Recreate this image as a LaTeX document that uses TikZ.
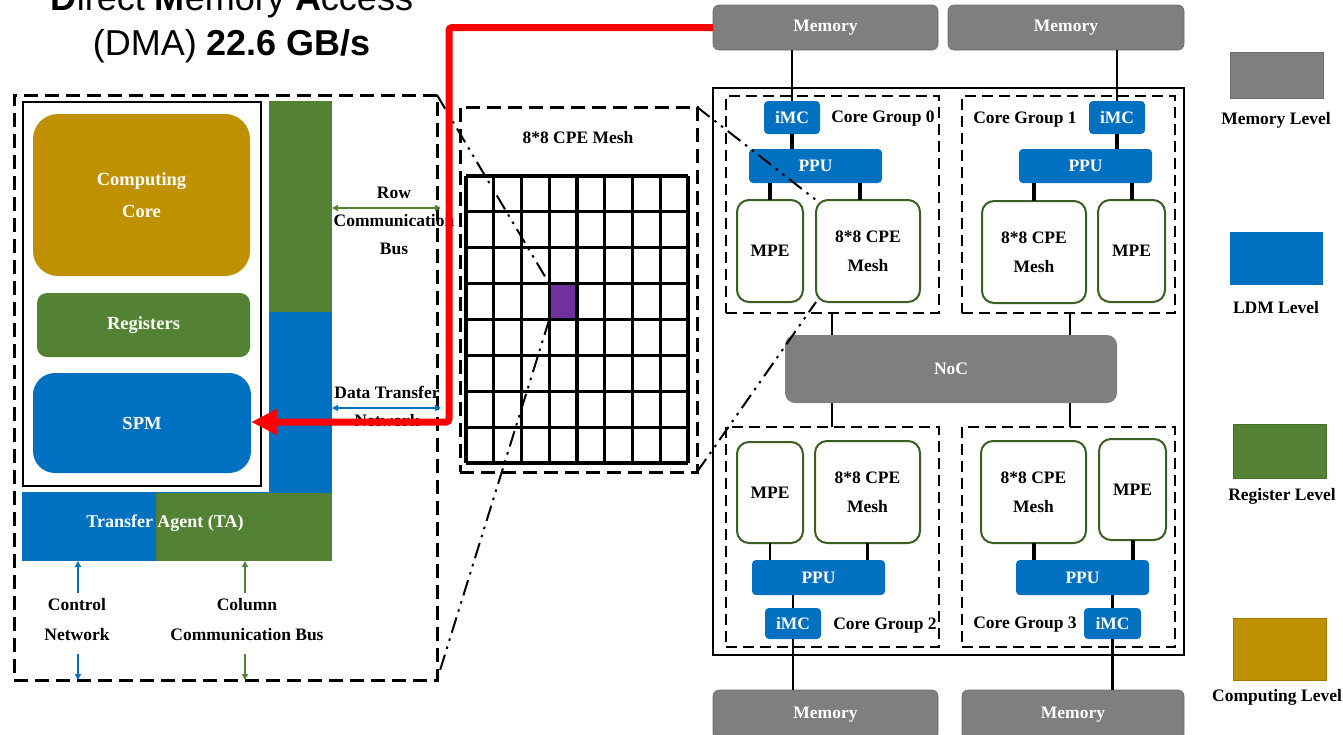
\documentclass[tikz,border=0pt]{standalone}
\usepackage{fontspec}
\setmainfont{Liberation Serif}
\newfontfamily\arialf{Liberation Sans}
\usetikzlibrary{arrows.meta,calc}
\definecolor{memgray}{HTML}{7F7F7F}
\definecolor{ldmblue}{HTML}{0070C0}
\definecolor{reggreen}{HTML}{548235}
\definecolor{compgold}{HTML}{BF9000}
\definecolor{cpepurple}{HTML}{7030A0}
\definecolor{pegreen}{HTML}{3B5E22}
\begin{document}
\begin{tikzpicture}[x=1pt,y=-1pt,
  every node/.style={inner sep=0pt,outer sep=0pt},
  lbl/.style={font=\fontsize{17.5}{21}\selectfont\bfseries,align=center},
  wlbl/.style={lbl,text=white},
  membox/.style={fill=memgray,draw=memgray!85!black,line width=0.6pt,rounded corners=6pt,wlbl},
  ldmbox/.style={fill=ldmblue,rounded corners=4pt,wlbl},
  pebox/.style={draw=pegreen,line width=2pt,fill=white,rounded corners=12pt,font=\fontsize{17.5}{29}\selectfont\bfseries,align=center},
  cgbox/.style={draw,line width=2.5pt,dash pattern=on 11pt off 6pt},
  bigdash/.style={draw,line width=3pt,dash pattern=on 14pt off 7pt},
  link/.style={line width=2.5pt},
  tlink/.style={line width=4pt},
  zoomline/.style={line width=2pt,dash pattern=on 16pt off 6pt on 2.5pt off 6pt on 2.5pt off 6pt},
  tip/.style={-{Triangle[length=6pt,width=6pt]}},
  dtip/.style={{Triangle[length=6pt,width=6pt]}-{Triangle[length=6pt,width=6pt]}},
  legbox/.style={minimum width=93pt}
]
\useasboundingbox (0,0) rectangle (1343,734);

% ---------- title ----------
\node[anchor=base,font=\arialf\fontsize{36}{40}\selectfont] (t1) at (232,10) {\textbf{D}irect \textbf{M}emory \textbf{A}ccess};
\node[anchor=base,font=\arialf\fontsize{36}{40}\selectfont] (t2) at (232,55) {(DMA) \textbf{22.6 GB/s}};

% ---------- left panel ----------
\node[bigdash,minimum width=423pt,minimum height=585pt] (leftpanel) at (225.5,387.5) {};
\node[draw,line width=2.5pt,minimum width=238pt,minimum height=384pt] (pe) at (142,294) {};
\node[fill=compgold,rounded corners=25pt,minimum width=217pt,minimum height=162pt,wlbl,font=\fontsize{18.5}{32}\selectfont\bfseries] (comp) at (141.5,195) {Computing\\Core};
\node[fill=reggreen,rounded corners=10pt,minimum width=213pt,minimum height=64pt,wlbl,font=\fontsize{18.5}{22}\selectfont\bfseries] (regs) at (143.5,325) {Registers};
\node[fill=ldmblue,rounded corners=22pt,minimum width=218pt,minimum height=100pt,wlbl,font=\fontsize{18.5}{22}\selectfont\bfseries] (spm) at (142,423) {SPM};

\node[fill=reggreen,minimum width=63pt,minimum height=212pt] (rowbar) at (300.5,207) {};
\node[fill=ldmblue,minimum width=63pt,minimum height=181pt] (colbar) at (300.5,402.5) {};
\node[fill=ldmblue,minimum width=310pt,minimum height=69pt] (ta) at (177,526.5) {};
\node[fill=reggreen,minimum width=176pt,minimum height=68pt] (tagreen) at (244,527) {};
\node[wlbl,font=\fontsize{18}{22}\selectfont\bfseries] (talbl) at (165,523) {Transfer Agent (TA)};

\coordinate (rowy) at (0,208);
\coordinate (dty) at (0,408);
\coordinate (busend) at (441,0);
\draw[dtip,reggreen,line width=1.8pt] (rowbar.east |- rowy) -- (busend |- rowy);
\draw[dtip,ldmblue,line width=1.8pt] (colbar.east |- dty) -- (busend |- dty);
\node[lbl,font=\fontsize{17.5}{28}\selectfont\bfseries] (rowlbl) at (394,221) {Row\\Communication\\Bus};
\node[lbl,font=\fontsize{17.5}{28}\selectfont\bfseries] (dtlbl) at (387,406) {Data Transfer\\Network};

\coordinate (ctrl1) at (78,593);
\coordinate (ctrl2) at (78,654);
\coordinate (col1) at (245,593);
\coordinate (col2) at (245,654);
\draw[tip,ldmblue,line width=1.8pt] (ctrl1) -- (ctrl1 |- ta.south);
\draw[tip,ldmblue,line width=1.8pt] (ctrl2) -- (ctrl2 |- leftpanel.south);
\draw[tip,reggreen,line width=1.8pt] (col1) -- (col1 |- ta.south);
\draw[tip,reggreen,line width=1.8pt] (col2) -- (col2 |- leftpanel.south);
\node[lbl,font=\fontsize{17.5}{30}\selectfont\bfseries] (ctrllbl) at (77,620) {Control\\Network};
\node[lbl,font=\fontsize{17.5}{30}\selectfont\bfseries] (collbl) at (247,620) {Column\\Communication Bus};

% ---------- mesh ----------
\node[bigdash,minimum width=237pt,minimum height=365pt] (meshbox) at (578.5,289.5) {};
\node[lbl] (meshtitle) at (578,138) {8*8 CPE Mesh};
\node[fill=cpepurple,minimum width=27.75pt,minimum height=35.875pt,anchor=north west] (purple) at (549.25,283.625) {};
\foreach \i in {0,...,8} {
  \draw[line width=3.2pt] (466+\i*27.75,176) -- (466+\i*27.75,463);
  \draw[line width=3.2pt] (466,176+\i*35.875) -- (688,176+\i*35.875);
}

% ---------- right panel ----------
\node[membox,minimum width=225pt,minimum height=45pt] (mem0) at (825.5,27.5) {Memory};
\node[membox,minimum width=236pt,minimum height=45pt] (mem1) at (1066,27.5) {Memory};
\node[membox,minimum width=225pt,minimum height=50pt] (mem2) at (825.5,715) {Memory};
\node[membox,minimum width=222pt,minimum height=50pt] (mem3) at (1073,715) {Memory};

\node[draw,line width=2pt,minimum width=471pt,minimum height=567pt] (chip) at (948.5,371.5) {};
\node[cgbox,minimum width=213pt,minimum height=217pt] (cg0) at (832.5,204.5) {};
\node[cgbox,minimum width=213pt,minimum height=217pt] (cg1) at (1068.5,204.5) {};
\node[cgbox,minimum width=213pt,minimum height=220pt] (cg2) at (832.5,537) {};
\node[cgbox,minimum width=213pt,minimum height=220pt] (cg3) at (1068.5,537) {};

\node[fill=memgray,rounded corners=10pt,minimum width=332pt,minimum height=68pt,wlbl] (noc) at (951,369) {NoC};

% core group 0
\node[ldmbox,minimum width=56pt,minimum height=33pt] (imc0) at (792,117.5) {iMC};
\node[ldmbox,minimum width=133pt,minimum height=34pt] (ppu0) at (815.5,166) {PPU};
\node[pebox,minimum width=66pt,minimum height=102pt] (mpe0) at (770,251) {MPE};
\node[pebox,minimum width=104pt,minimum height=102pt] (cpe0) at (868,251) {8*8 CPE\\Mesh};
\node[lbl] (cg0lbl) at (883,119) {Core Group 0};
% core group 1
\node[ldmbox,minimum width=56pt,minimum height=33pt] (imc1) at (1117,117.5) {iMC};
\node[ldmbox,minimum width=133pt,minimum height=34pt] (ppu1) at (1085.5,166) {PPU};
\node[pebox,minimum width=104pt,minimum height=102pt] (cpe1) at (1034,252) {8*8 CPE\\Mesh};
\node[pebox,minimum width=67pt,minimum height=102pt] (mpe1) at (1131.5,251) {MPE};
\node[lbl] (cg1lbl) at (1025,120) {Core Group 1};
% core group 2
\node[pebox,minimum width=66pt,minimum height=101pt] (mpe2) at (770,492.5) {MPE};
\node[pebox,minimum width=105pt,minimum height=102pt] (cpe2) at (867.5,492) {8*8 CPE\\Mesh};
\node[ldmbox,minimum width=133pt,minimum height=35pt] (ppu2) at (818.5,577.5) {PPU};
\node[ldmbox,minimum width=56pt,minimum height=31pt] (imc2) at (793,623.5) {iMC};
\node[lbl] (cg2lbl) at (885,626) {Core Group 2};
% core group 3
\node[pebox,minimum width=105pt,minimum height=102pt] (cpe3) at (1033.5,492) {8*8 CPE\\Mesh};
\node[pebox,minimum width=67pt,minimum height=101pt] (mpe3) at (1132.5,489.5) {MPE};
\node[ldmbox,minimum width=133pt,minimum height=35pt] (ppu3) at (1082.5,577.5) {PPU};
\node[ldmbox,minimum width=57pt,minimum height=31pt] (imc3) at (1112.5,623.5) {iMC};
\node[lbl] (cg3lbl) at (1025,625) {Core Group 3};

% connectors
\draw[link] (mem0.south -| imc0.north) -- (imc0.north);
\draw[tlink] (imc0.south) -- (imc0.south |- ppu0.north);
\draw[tlink] (mpe0.north) -- (mpe0.north |- ppu0.south);
\draw[tlink] ([xshift=-8pt]cpe0.north) -- ([xshift=-8pt]cpe0.north |- ppu0.south);
\draw[link] (mem1.south -| imc1.north) -- (imc1.north);
\draw[tlink] (imc1.south) -- (imc1.south |- ppu1.north);
\draw[tlink] (cpe1.north) -- (cpe1.north |- ppu1.south);
\draw[tlink] (mpe1.north) -- (mpe1.north |- ppu1.south);
\coordinate (nx1) at (832,0);
\coordinate (nx2) at (1070,0);
\draw[link] (cg0.south -| nx1) -- (noc.north -| nx1);
\draw[link] (cg1.south -| nx2) -- (noc.north -| nx2);
\draw[link] (noc.south -| nx1) -- (cg2.north -| nx1);
\draw[link] (noc.south -| nx2) -- (cg3.north -| nx2);
\draw[link] (mpe2.south) -- (mpe2.south |- ppu2.north);
\draw[link] (cpe2.south) -- (cpe2.south |- ppu2.north);
\draw[link] (imc2.north) -- (imc2.north |- ppu2.south);
\draw[link] (imc2.south) -- (imc2.south |- mem2.north);
\draw[tlink] (cpe3.south) -- (cpe3.south |- ppu3.north);
\draw[tlink] (mpe3.south) -- (mpe3.south |- ppu3.north);
\draw[link] (imc3.north) -- (imc3.north |- ppu3.south);
\draw[link] (imc3.south) -- (imc3.south |- mem3.north);

% ---------- legend ----------
\node[fill=memgray,draw=memgray!85!black,legbox,minimum height=46pt] (lg1) at (1276.5,75) {};
\node[lbl] (lg1t) at (1276,120) {Memory Level};
\node[fill=ldmblue,legbox,minimum height=53pt] (lg2) at (1276.5,258.5) {};
\node[lbl] (lg2t) at (1276,308) {LDM Level};
\node[fill=reggreen,draw=reggreen!85!black,legbox,minimum height=54pt] (lg3) at (1279.5,451) {};
\node[lbl] (lg3t) at (1282,496) {Register Level};
\node[fill=compgold,draw=compgold!85!black,legbox,minimum height=62pt] (lg4) at (1279.5,649) {};
\node[lbl] (lg4t) at (1277,697) {Computing Level};

% ---------- zoom lines ----------
\draw[zoomline] (leftpanel.north east) -- (purple.north west);
\draw[zoomline] (purple.south west) -- (leftpanel.south east);
\draw[zoomline] (meshbox.north east) -- (cpe0.north west);
\draw[zoomline] (meshbox.south east) -- (cpe0.south west);

% ---------- DMA path ----------
\coordinate (redy) at (0,422);
\coordinate (redx) at (449,0);
\draw[red,line width=7pt,rounded corners=3pt,-{Triangle[length=26pt,width=24pt]}]
  (mem0.west) -| (redx |- redy) -- (spm.east |- redy);
\end{tikzpicture}
\end{document}
